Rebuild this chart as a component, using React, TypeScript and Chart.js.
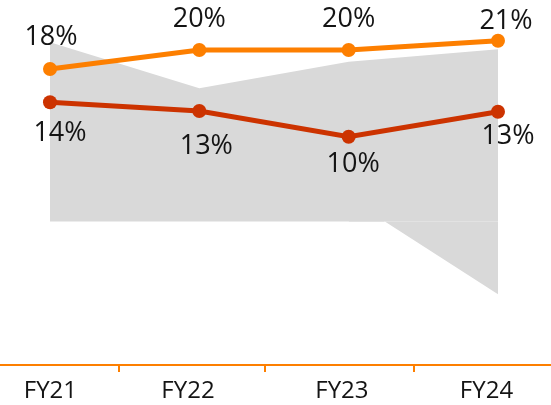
import { useEffect, useRef } from "react";
import { Chart, registerables } from "chart.js";

Chart.register(...registerables);

const categories = ["FY21", "FY22", "FY23", "FY24"];
const orangeValues = [17.98, 20.22, 20.22, 21.32];
const redValues = [14.06, 13.03, 9.99, 12.95];
const rangeUpper = [21.13, 15.7, 18.84, 20.3];
const rangeLower: (number | null)[] = [null, null, 2.73, -8.58];

const ORANGE = "#FD7F00";
const RED = "#CC3300";
const GRAY = "#D9D9D9";
const TEXT = "#141414";
const FONT = '"Open Sans", "Noto Sans", sans-serif';

// style config (not data)
const AXIS = { xMin: -0.3348, xMax: 3.355, yMin: -16.92, yMax: 26.12 };
const categoryLabelPos = [0.003, 0.924, 1.955, 2.923];
const orangeLabelOffsets = [[1, -34], [0, -32.5], [0, -32.5], [8, -21]];
const redLabelOffsets = [[10, 29], [7, 33], [4.5, 26], [10, 23]];

const toPoints = (arr: (number | null)[]) => arr.map((y, i) => ({ x: i, y }));

const labelPlugin = {
  id: "pctLabels",
  afterDatasetsDraw(chart: any) {
    const ctx = chart.ctx;
    const size = 27;
    chart.data.datasets.forEach((ds: any, di: number) => {
      const offs = ds.labelOffsets;
      if (!offs) return;
      const meta = chart.getDatasetMeta(di);
      meta.data.forEach((pt: any, i: number) => {
        const v = ds.data[i].y;
        if (v == null) return;
        ctx.save();
        ctx.font = `${size}px ${FONT}`;
        ctx.fillStyle = TEXT;
        ctx.textAlign = "center";
        ctx.textBaseline = "alphabetic";
        ctx.fillText(Math.round(v) + "%", pt.x + offs[i][0], pt.y + offs[i][1] + 0.357 * size);
        ctx.restore();
      });
    });
  },
};

export default function App() {
  const ref = useRef<HTMLCanvasElement | null>(null);

  useEffect(() => {
    let chart: Chart | null = null;
    let cancelled = false;
    const build = () => {
      if (cancelled || !ref.current) return;
      chart = new Chart(ref.current, {
        type: "line",
        data: {
          datasets: [
            {
              data: toPoints(orangeValues),
              borderColor: ORANGE,
              backgroundColor: ORANGE,
              borderWidth: 5,
              pointRadius: 7,
              pointBorderWidth: 0,
              pointBackgroundColor: ORANGE,
              fill: false,
              order: 0,
              xAxisID: "x",
              labelOffsets: orangeLabelOffsets,
            } as any,
            {
              data: toPoints(redValues),
              borderColor: RED,
              backgroundColor: RED,
              borderWidth: 5,
              pointRadius: 7,
              pointBorderWidth: 0,
              pointBackgroundColor: RED,
              fill: false,
              order: 1,
              xAxisID: "x",
              labelOffsets: redLabelOffsets,
            } as any,
            {
              data: toPoints(rangeUpper),
              borderWidth: 0,
              borderColor: GRAY,
              backgroundColor: GRAY,
              pointRadius: 0,
              fill: "origin",
              order: 2,
              xAxisID: "x",
            },
            {
              data: toPoints(rangeLower),
              borderWidth: 0,
              borderColor: GRAY,
              backgroundColor: GRAY,
              pointRadius: 0,
              fill: "origin",
              order: 3,
              xAxisID: "x",
            },
          ],
        },
        options: {
          animation: false,
          responsive: false,
          layout: { padding: 0, autoPadding: false },
          plugins: { legend: { display: false }, tooltip: { enabled: false } },
          elements: { line: { tension: 0 } },
          scales: {
            x: {
              type: "linear",
              display: false,
              min: AXIS.xMin,
              max: AXIS.xMax,
              bounds: "data",
            },
            x2: {
              type: "linear",
              position: "bottom",
              min: AXIS.xMin,
              max: AXIS.xMax,
              bounds: "data",
              afterBuildTicks: (axis: any) => {
                axis.ticks = categoryLabelPos.map((v) => ({ value: v }));
              },
              afterFit: (axis: any) => {
                axis.height = 40;
              },
              ticks: {
                autoSkip: false,
                maxRotation: 0,
                padding: 6,
                color: TEXT,
                font: { family: FONT, size: 24, lineHeight: 1.125 },
                callback: (_v: any, i: number) => categories[i],
              },
              grid: {
                offset: true,
                drawOnChartArea: false,
                drawTicks: true,
                tickLength: 7,
                color: ORANGE,
                lineWidth: 2,
              },
              border: { display: true, color: ORANGE, width: 2 },
            },
            y: {
              type: "linear",
              display: false,
              min: AXIS.yMin,
              max: AXIS.yMax,
            },
          },
        },
        plugins: [labelPlugin],
      } as any);
    };
    const fonts = (document as any).fonts;
    if (fonts && fonts.load) {
      Promise.all([fonts.load('27px "Open Sans"'), fonts.load('24px "Open Sans"')])
        .catch(() => null)
        .then(build);
    } else build();
    return () => {
      cancelled = true;
      if (chart) chart.destroy();
    };
  }, []);

  return (
    <canvas
      ref={ref}
      width={551}
      height={405}
      style={{ position: "fixed", left: 0, top: 0, display: "block", width: 551, height: 405 }}
    />
  );
}
